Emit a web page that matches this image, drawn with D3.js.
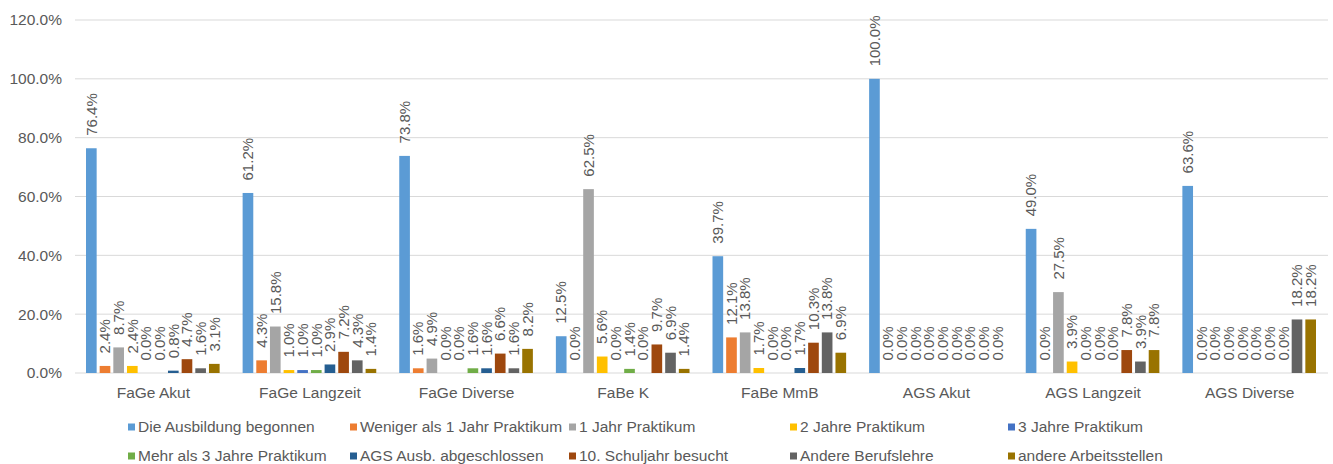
<!DOCTYPE html>
<html>
<head>
<meta charset="utf-8">
<script src="https://cdn.jsdelivr.net/npm/d3@7"></script>
<style>
  body { margin: 0; background: #fff; }
  svg { display: block; font-family: "Liberation Sans", Arial, sans-serif; }
</style>
</head>
<body>
<svg id="chart"></svg>
<script>
// Data
let categories = ["FaGe Akut", "FaGe Langzeit", "FaGe Diverse", "FaBe K", "FaBe MmB", "AGS Akut", "AGS Langzeit", "AGS Diverse"];

let seriesNames = [
  "Die Ausbildung begonnen",
  "Weniger als 1 Jahr Praktikum",
  "1 Jahr Praktikum",
  "2 Jahre Praktikum",
  "3 Jahre Praktikum",
  "Mehr als 3 Jahre Praktikum",
  "AGS Ausb. abgeschlossen",
  "10. Schuljahr besucht",
  "Andere Berufslehre",
  "andere Arbeitsstellen"
];

let seriesColors = ["#5b9bd5", "#ed7d31", "#a5a5a5", "#ffc000", "#4472c4", "#70ad47", "#255e91", "#9e480e", "#636363", "#997300"];

// one array per series, values per category (percent)
let ausbildungBegonnen = [76.4, 61.2, 73.8, 12.5, 39.7, 100.0, 49.0, 63.6];
let wenigerAls1Jahr    = [2.4, 4.3, 1.6, 0.0, 12.1, 0.0, 0.0, 0.0];
let einJahr            = [8.7, 15.8, 4.9, 62.5, 13.8, 0.0, 27.5, 0.0];
let zweiJahre          = [2.4, 1.0, 0.0, 5.6, 1.7, 0.0, 3.9, 0.0];
let dreiJahre          = [0.0, 1.0, 0.0, 0.0, 0.0, 0.0, 0.0, 0.0];
let mehrAls3Jahre      = [0.0, 1.0, 1.6, 1.4, 0.0, 0.0, 0.0, 0.0];
let agsAbgeschlossen   = [0.8, 2.9, 1.6, 0.0, 1.7, 0.0, 0.0, 0.0];
let schuljahr10        = [4.7, 7.2, 6.6, 9.7, 10.3, 0.0, 7.8, 0.0];
let andereBerufslehre  = [1.6, 4.3, 1.6, 6.9, 13.8, 0.0, 3.9, 18.2];
let andereArbeit       = [3.1, 1.4, 8.2, 1.4, 6.9, 0.0, 7.8, 18.2];

let seriesValues = [ausbildungBegonnen, wenigerAls1Jahr, einJahr, zweiJahre, dreiJahre,
  mehrAls3Jahre, agsAbgeschlossen, schuljahr10, andereBerufslehre, andereArbeit];

let yTicks = [0, 20, 40, 60, 80, 100, 120];

// Layout
let width = 1333;
let height = 464;
let plotLeft = 75;
let plotRight = 1328;
let plotTop = 20;
let plotBottom = 373;
let fontAxis = "15.5px";

let svg = d3.select("#chart").attr("width", width).attr("height", height);

let xScale = d3.scaleBand().domain(categories).range([plotLeft, plotRight]).padding(0);
let xInner = d3.scaleBand()
  .domain(d3.range(seriesNames.length))
  .range([11, xScale.bandwidth() - 12])
  .paddingInner(0.22)
  .paddingOuter(0);
let yScale = d3.scaleLinear().domain([0, 120]).range([plotBottom, plotTop]);

// Gridlines
svg.append("g")
  .selectAll("line")
  .data(yTicks)
  .enter()
  .append("line")
  .attr("x1", plotLeft)
  .attr("x2", plotRight)
  .attr("y1", (d) => yScale(d))
  .attr("y2", (d) => yScale(d))
  .attr("stroke", "#d9d9d9")
  .attr("stroke-width", 1);

// Y axis
let yAxis = d3.axisLeft(yScale)
  .tickValues(yTicks)
  .tickSize(0)
  .tickPadding(0)
  .tickFormat((d) => d3.format(".1f")(d) + "%");

let yG = svg.append("g")
  .attr("transform", "translate(62, 0)")
  .call(yAxis);
yG.select(".domain").remove();
yG.selectAll("text")
  .attr("fill", "#595959")
  .style("font-size", fontAxis)
  .style("font-family", "'Liberation Sans', Arial, sans-serif");

// X axis
let xAxis = d3.axisBottom(xScale).tickSize(0).tickPadding(0);
let xG = svg.append("g")
  .attr("transform", "translate(0, " + plotBottom + ")")
  .call(xAxis);
xG.select(".domain").remove();
xG.selectAll("text")
  .attr("fill", "#595959")
  .attr("y", 20)
  .attr("dy", "0.35em")
  .style("font-size", fontAxis)
  .style("font-family", "'Liberation Sans', Arial, sans-serif");

// Bars
let rows = [];
categories.forEach((cat, ci) => {
  seriesValues.forEach((vals, si) => {
    rows.push({ cat: cat, s: si, v: vals[ci] });
  });
});

svg.append("g")
  .selectAll("rect")
  .data(rows)
  .enter()
  .append("rect")
  .attr("x", (d) => xScale(d.cat) + xInner(d.s))
  .attr("width", xInner.bandwidth())
  .attr("y", (d) => yScale(d.v))
  .attr("height", (d) => plotBottom - yScale(d.v))
  .attr("fill", (d) => seriesColors[d.s]);

// Data labels
svg.append("g")
  .selectAll("text")
  .data(rows)
  .enter()
  .append("text")
  .attr("transform", (d) => {
    let cx = xScale(d.cat) + xInner(d.s) + xInner.bandwidth() / 2;
    let cy = yScale(d.v) - 12.5;
    return "translate(" + cx + "," + cy + ") rotate(-90)";
  })
  .attr("dy", "0.35em")
  .attr("text-anchor", "start")
  .attr("fill", "#595959")
  .style("font-size", "15px")
  .text((d) => d3.format(".1f")(d.v) + "%");

// Legend
let legendCols = [128, 350, 569, 790, 1008];
let legendRows = [427, 456];

let legend = svg.append("g")
  .selectAll("g")
  .data(seriesNames)
  .enter()
  .append("g")
  .attr("transform", (d, i) => "translate(" + legendCols[i % 5] + "," + legendRows[Math.floor(i / 5)] + ")");

legend.append("rect")
  .attr("x", 0)
  .attr("y", -3.5)
  .attr("width", 7)
  .attr("height", 7)
  .attr("fill", (d, i) => seriesColors[i]);

legend.append("text")
  .attr("x", 10)
  .attr("dy", "0.35em")
  .attr("fill", "#595959")
  .style("font-size", fontAxis)
  .text((d) => d);
</script>
</body>
</html>
